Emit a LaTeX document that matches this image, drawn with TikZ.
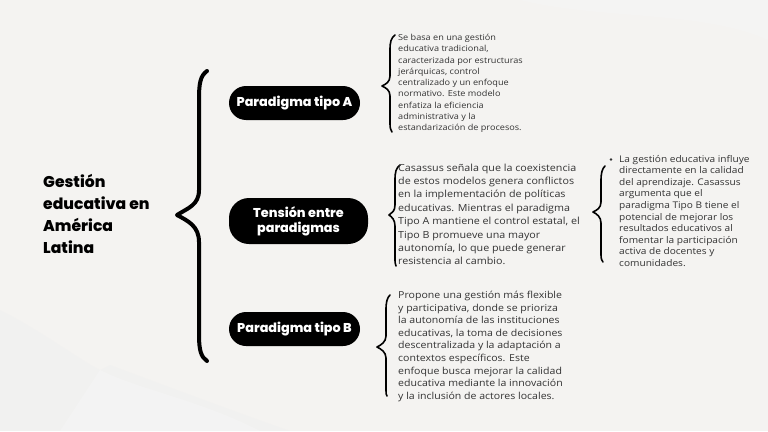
\documentclass[tikz,border=0pt]{standalone}
\usepackage{fontspec}
\setmainfont{Open Sans}
\newfontfamily\popbold{Poppins}[UprightFont=*-ExtraBold]
\newfontfamily\bodyfnt{Open Sans}[FakeStretch=1.1]
\begin{document}
\begin{tikzpicture}[x=1pt,y=-1pt,
  pill/.style={fill=black,text=white,rounded corners=17pt,minimum height=34pt,minimum width=131pt,inner xsep=3pt,font=\popbold\fontsize{12.8}{14}\selectfont,align=center},
  bigbrace/.style={line width=4pt,line cap=round,line join=round},
  smallbrace/.style={line width=1.6pt,line cap=round,line join=round},
  bodytext/.style={anchor=north west,inner sep=0pt,align=left,text=black!80}
]
\definecolor{bg}{HTML}{F4F3F1}
\useasboundingbox (0,0) rectangle (768,431);
\fill[bg] (0,0) rectangle (768,431);
% faint background shapes
\fill[black!6,opacity=0.6] (0,310) .. controls (40,330) and (80,360) .. (100,370) -- (110,365) .. controls (150,380) and (230,410) .. (290,431) -- (0,431) -- cycle;
\fill[black!4,opacity=0.6] (100,370) .. controls (140,390) and (200,400) .. (260,431) -- (60,431) -- cycle;
\fill[black!4,opacity=0.5] (520,0) .. controls (600,20) and (700,10) .. (768,40) -- (768,0) -- cycle;

% title
\node[anchor=north west,inner sep=0pt,align=left,font=\popbold\fontsize{15.6}{21.8}\selectfont] (title) at (43,174.5)
  {Gesti\'on\\educativa en\\Am\'erica\\Latina};

% big brace
\draw[bigbrace] (207,71) .. controls (200,76) and (199,84) .. (199,100)
  -- (199,190) .. controls (199,205) and (188,208) .. (177,215)
  .. controls (188,221) and (199,226) .. (199,242)
  -- (199,335) .. controls (199,350) and (201,357) .. (207,361);

% pills
\node[pill] (pa) at (294.5,103) {Paradigma tipo A};
\node[pill,minimum height=46pt,minimum width=139pt,rounded corners=20pt,font=\popbold\fontsize{12.8}{15}\selectfont] (pt) at (298.5,221) {Tensi\'on entre\\paradigmas};
\node[pill] (pb) at (294.5,329) {Paradigma tipo B};

% small braces
\draw[smallbrace] (395,35) .. controls (391,38) and (390,42) .. (390,50)
  -- (390,76) .. controls (390,82) and (386,84) .. (382,86)
  .. controls (386,88) and (390,90) .. (390,96) -- (390,124) .. controls (390,128) and (391,131) .. (392,132);
\draw[smallbrace] (400,165) .. controls (396,168) and (395,172) .. (395,180)
  -- (395,205) .. controls (395,211) and (392,213) .. (389,215)
  .. controls (392,217) and (395,220) .. (395,226) -- (395,258) .. controls (395,262) and (395,264) .. (396,266);
\draw[smallbrace] (605,166) .. controls (602,169) and (601,173) .. (601,181)
  -- (601,202) .. controls (601,208) and (597,210) .. (593,212)
  .. controls (597,214) and (601,217) .. (601,223) -- (601,255) .. controls (601,259) and (602,261) .. (603,262);
\draw[smallbrace] (390,295) .. controls (387,298) and (386,302) .. (386,310)
  -- (386,336) .. controls (386,342) and (381,345) .. (377,347)
  .. controls (381,349) and (386,352) .. (386,358) -- (386,390) .. controls (386,393) and (386,395) .. (387,396);

% texts
\node[bodytext,font=\bodyfnt\fontsize{8.3}{11.25}\selectfont] (ta) at (398,34)
 {Se basa en una gesti\'on\\educativa tradicional,\\caracterizada por estructuras\\jer\'arquicas, control\\centralizado y un enfoque\\normativo. Este modelo\\enfatiza la eficiencia\\administrativa y la\\estandarizaci\'on de procesos.};
\node[bodytext,font=\bodyfnt\fontsize{9.75}{13.4}\selectfont] (tt) at (398,163.5)
 {Casassus se\~nala que la coexistencia\\de estos modelos genera conflictos\\en la implementaci\'on de pol\'iticas\\educativas. Mientras el paradigma\\Tipo A mantiene el control estatal, el\\Tipo B promueve una mayor\\autonom\'ia, lo que puede generar\\resistencia al cambio.};
\node[bodytext,font=\bodyfnt\fontsize{9.2}{11.55}\selectfont] (tr) at (619,155)
 {La gesti\'on educativa influye\\directamente en la calidad\\del aprendizaje. Casassus\\argumenta que el\\paradigma Tipo B tiene el\\potencial de mejorar los\\resultados educativos al\\fomentar la participaci\'on\\activa de docentes y\\comunidades.};
\fill[black!80] (611,159.5) circle (1.3pt);
\node[bodytext,font=\bodyfnt\fontsize{9.6}{12.6}\selectfont] (tb) at (398,291)
 {Propone una gesti\'on m\'as flexible\\y participativa, donde se prioriza\\la autonom\'ia de las instituciones\\educativas, la toma de decisiones\\descentralizada y la adaptaci\'on a\\contextos espec\'ificos. Este\\enfoque busca mejorar la calidad\\educativa mediante la innovaci\'on\\y la inclusi\'on de actores locales.};
\end{tikzpicture}
\end{document}
